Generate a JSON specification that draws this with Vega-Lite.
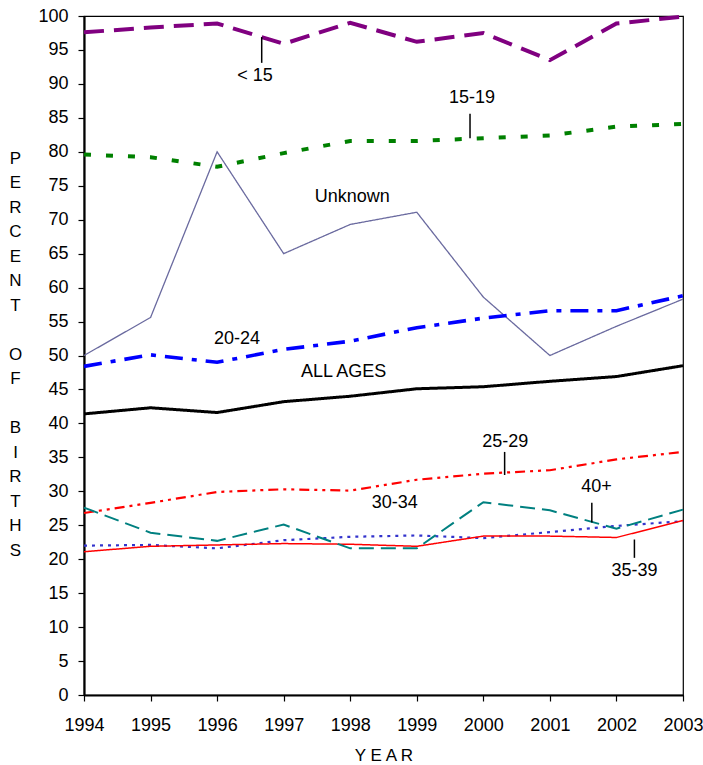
{
  "$schema": "https://vega.github.io/schema/vega-lite/v6.json",
  "width": 599,
  "height": 679,
  "autosize": {"type": "none"},
  "padding": {"left": 84, "top": 16, "right": 20, "bottom": 70},
  "background": "white",
  "config": {
    "font": "Liberation Sans",
    "view": {"stroke": "black", "strokeWidth": 1.2},
    "axis": {"grid": false, "domainColor": "black", "domainWidth": 2.2, "tickColor": "black", "tickWidth": 1.2, "tickSize": 6, "labelFont": "Liberation Sans", "labelFontSize": 18, "labelColor": "black", "labelOverlap": false, "labelFlush": false, "labelBound": false, "titleFont": "Liberation Sans", "titleFontSize": 17, "titleFontWeight": "normal", "titleColor": "black"}
  },
  "datasets": {
    "births": [
      {"year": 1994, "series": "< 15", "value": 97.6}, {"year": 1995, "series": "< 15", "value": 98.3}, {"year": 1996, "series": "< 15", "value": 98.9}, {"year": 1997, "series": "< 15", "value": 95.9}, {"year": 1998, "series": "< 15", "value": 99.0}, {"year": 1999, "series": "< 15", "value": 96.2}, {"year": 2000, "series": "< 15", "value": 97.5}, {"year": 2001, "series": "< 15", "value": 93.5}, {"year": 2002, "series": "< 15", "value": 98.9}, {"year": 2003, "series": "< 15", "value": 99.9},
      {"year": 1994, "series": "15-19", "value": 79.6}, {"year": 1995, "series": "15-19", "value": 79.2}, {"year": 1996, "series": "15-19", "value": 77.8}, {"year": 1997, "series": "15-19", "value": 79.8}, {"year": 1998, "series": "15-19", "value": 81.6}, {"year": 1999, "series": "15-19", "value": 81.6}, {"year": 2000, "series": "15-19", "value": 82.0}, {"year": 2001, "series": "15-19", "value": 82.4}, {"year": 2002, "series": "15-19", "value": 83.7}, {"year": 2003, "series": "15-19", "value": 84.1},
      {"year": 1994, "series": "Unknown", "value": 50.0}, {"year": 1995, "series": "Unknown", "value": 55.6}, {"year": 1996, "series": "Unknown", "value": 80.0}, {"year": 1997, "series": "Unknown", "value": 65.0}, {"year": 1998, "series": "Unknown", "value": 69.3}, {"year": 1999, "series": "Unknown", "value": 71.1}, {"year": 2000, "series": "Unknown", "value": 58.6}, {"year": 2001, "series": "Unknown", "value": 50.0}, {"year": 2002, "series": "Unknown", "value": 54.3}, {"year": 2003, "series": "Unknown", "value": 58.3},
      {"year": 1994, "series": "20-24", "value": 48.4}, {"year": 1995, "series": "20-24", "value": 50.1}, {"year": 1996, "series": "20-24", "value": 49.0}, {"year": 1997, "series": "20-24", "value": 50.9}, {"year": 1998, "series": "20-24", "value": 52.1}, {"year": 1999, "series": "20-24", "value": 54.1}, {"year": 2000, "series": "20-24", "value": 55.5}, {"year": 2001, "series": "20-24", "value": 56.6}, {"year": 2002, "series": "20-24", "value": 56.6}, {"year": 2003, "series": "20-24", "value": 58.8},
      {"year": 1994, "series": "ALL AGES", "value": 41.4}, {"year": 1995, "series": "ALL AGES", "value": 42.3}, {"year": 1996, "series": "ALL AGES", "value": 41.6}, {"year": 1997, "series": "ALL AGES", "value": 43.2}, {"year": 1998, "series": "ALL AGES", "value": 44.0}, {"year": 1999, "series": "ALL AGES", "value": 45.1}, {"year": 2000, "series": "ALL AGES", "value": 45.4}, {"year": 2001, "series": "ALL AGES", "value": 46.2}, {"year": 2002, "series": "ALL AGES", "value": 46.9}, {"year": 2003, "series": "ALL AGES", "value": 48.5},
      {"year": 1994, "series": "25-29", "value": 26.8}, {"year": 1995, "series": "25-29", "value": 28.3}, {"year": 1996, "series": "25-29", "value": 29.9}, {"year": 1997, "series": "25-29", "value": 30.3}, {"year": 1998, "series": "25-29", "value": 30.1}, {"year": 1999, "series": "25-29", "value": 31.7}, {"year": 2000, "series": "25-29", "value": 32.6}, {"year": 2001, "series": "25-29", "value": 33.1}, {"year": 2002, "series": "25-29", "value": 34.7}, {"year": 2003, "series": "25-29", "value": 35.8},
      {"year": 1994, "series": "30-34", "value": 22.0}, {"year": 1995, "series": "30-34", "value": 22.1}, {"year": 1996, "series": "30-34", "value": 21.6}, {"year": 1997, "series": "30-34", "value": 22.8}, {"year": 1998, "series": "30-34", "value": 23.3}, {"year": 1999, "series": "30-34", "value": 23.5}, {"year": 2000, "series": "30-34", "value": 23.1}, {"year": 2001, "series": "30-34", "value": 24.0}, {"year": 2002, "series": "30-34", "value": 24.9}, {"year": 2003, "series": "30-34", "value": 25.6},
      {"year": 1994, "series": "35-39", "value": 21.1}, {"year": 1995, "series": "35-39", "value": 21.9}, {"year": 1996, "series": "35-39", "value": 22.1}, {"year": 1997, "series": "35-39", "value": 22.3}, {"year": 1998, "series": "35-39", "value": 22.2}, {"year": 1999, "series": "35-39", "value": 21.9}, {"year": 2000, "series": "35-39", "value": 23.4}, {"year": 2001, "series": "35-39", "value": 23.4}, {"year": 2002, "series": "35-39", "value": 23.2}, {"year": 2003, "series": "35-39", "value": 25.7},
      {"year": 1994, "series": "40+", "value": 27.6}, {"year": 1995, "series": "40+", "value": 23.9}, {"year": 1996, "series": "40+", "value": 22.7}, {"year": 1997, "series": "40+", "value": 25.1}, {"year": 1998, "series": "40+", "value": 21.6}, {"year": 1999, "series": "40+", "value": 21.6}, {"year": 2000, "series": "40+", "value": 28.4}, {"year": 2001, "series": "40+", "value": 27.2}, {"year": 2002, "series": "40+", "value": 24.5}, {"year": 2003, "series": "40+", "value": 27.3}
    ],
    "labels": [
      {"label": "< 15", "year": 1996.57, "value": 91.2},
      {"label": "15-19", "year": 1999.83, "value": 87.9},
      {"label": "Unknown", "year": 1998.03, "value": 73.3},
      {"label": "20-24", "year": 1996.3, "value": 52.4},
      {"label": "ALL AGES", "year": 1997.9, "value": 47.6},
      {"label": "25-29", "year": 2000.33, "value": 37.3},
      {"label": "30-34", "year": 1998.67, "value": 28.3},
      {"label": "40+", "year": 2001.7, "value": 30.6},
      {"label": "35-39", "year": 2002.27, "value": 18.2}
    ],
    "callouts": [
      {"year": 1996.67, "value": 96.9, "value2": 93.1},
      {"year": 1999.8, "value": 85.6, "value2": 82.0},
      {"year": 2000.32, "value": 35.8, "value2": 32.4},
      {"year": 2001.63, "value": 28.3, "value2": 25.4},
      {"year": 2002.27, "value": 22.9, "value2": 20.2}
    ]
  },
  "encoding": {
    "x": {"field": "year", "type": "quantitative", "scale": {"domain": [1994, 2003], "nice": false, "zero": false},
      "axis": {"values": [1994, 1995, 1996, 1997, 1998, 1999, 2000, 2001, 2002, 2003], "format": "d", "labelPadding": 15, "labelOverlap": false, "title": "Y E A R", "titleY": 60, "titleBaseline": "middle", "titleAnchor": "middle"}},
    "y": {"field": "value", "type": "quantitative", "scale": {"domain": [0, 100], "nice": false, "zero": true},
      "axis": {"values": [0, 5, 10, 15, 20, 25, 30, 35, 40, 45, 50, 55, 60, 65, 70, 75, 80, 85, 90, 95, 100], "format": "d", "labelOverlap": false, "labelSeparation": 0, "labelPadding": 10,
        "title": ["P", "E", "R", "C", "E", "N", "T", "\u200b", "O", "F", "\u200b", "B", "I", "R", "T", "H", "S"],
        "titleAngle": 0, "titleX": -69, "titleY": 142, "titleAlign": "center", "titleBaseline": "middle", "titleLineHeight": 24.5}}
  },
  "layer": [
    {
      "data": {"name": "births"},
      "mark": {"type": "line", "clip": false},
      "encoding": {
        "color": {"field": "series", "type": "nominal", "legend": null,
          "scale": {"domain": ["Unknown", "< 15", "15-19", "20-24", "ALL AGES", "25-29", "30-34", "35-39", "40+"],
            "range": ["#6A6A9F", "#800080", "#008000", "#0000FF", "#000000", "#FF0000", "#3333CC", "#FF0000", "#008080"]}},
        "strokeDash": {"field": "series", "type": "nominal", "legend": null,
          "scale": {"domain": ["Unknown", "< 15", "15-19", "20-24", "ALL AGES", "25-29", "30-34", "35-39", "40+"],
            "range": [[1, 0], [20, 10], [7, 15], [18, 9, 5, 9], [1, 0], [10, 5, 3, 5, 3, 5], [3, 5], [1, 0], [15, 7]]}},
        "strokeWidth": {"field": "series", "type": "nominal", "legend": null,
          "scale": {"type": "ordinal", "domain": ["Unknown", "< 15", "15-19", "20-24", "ALL AGES", "25-29", "30-34", "35-39", "40+"],
            "range": [1.3, 4, 4, 3.6, 3, 2.2, 2.2, 1.5, 2]}},
        "order": {"field": "year", "type": "quantitative"}
      }
    },
    {
      "data": {"name": "callouts"},
      "mark": {"type": "rule", "color": "black", "strokeWidth": 1.5},
      "encoding": {
        "y2": {"field": "value2"}
      }
    },
    {
      "data": {"name": "labels"},
      "mark": {"type": "text", "font": "Liberation Sans", "fontSize": 18, "color": "black", "align": "center", "baseline": "middle"},
      "encoding": {
        "text": {"field": "label"}
      }
    }
  ]
}
